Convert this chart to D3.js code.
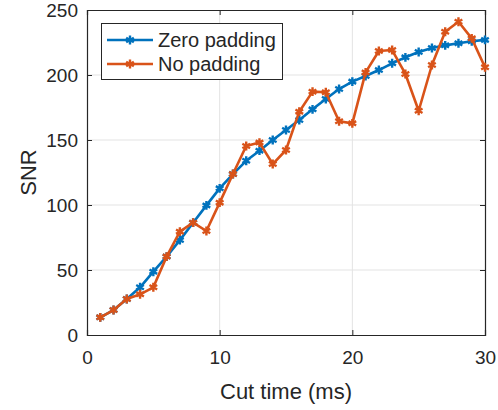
<!DOCTYPE html>
<html>
<head>
<meta charset="utf-8">
<script src="https://cdn.jsdelivr.net/npm/d3@7"></script>
<style>
  body { margin: 0; background: #fff; }
  text { font-family: "Liberation Sans", Arial, sans-serif; fill: #262626; }
</style>
</head>
<body>
<svg id="chart" width="498" height="410"></svg>
<script>
// cut time (ms)
const cutTimes = d3.range(1, 31);

// SNR with zero padding
const zeroPadding = [13.6, 19.2, 27.7, 36.7, 48.7, 60.3, 73, 86.4, 99.7, 112.8,
                     123.8, 134, 141.8, 150, 157.7, 165.4, 173.6, 181.5, 189.2, 194.9,
                     199.2, 203.8, 209, 213.6, 217.7, 220.8, 222.8, 224.4, 225.9, 227];

// SNR without padding
const noPadding = [13.6, 19.2, 27.7, 31.3, 36.7, 60.3, 79.5, 86.4, 80, 101.8,
                   123.8, 145.4, 148, 131.5, 142.3, 171.8, 187.2, 186.7, 164.4, 162.8,
                   202, 218.5, 219.2, 200.8, 172.5, 207.7, 233.3, 241, 228.2, 206];

const xTicks = [0, 10, 20, 30];
const yTicks = [0, 50, 100, 150, 200, 250];
const seriesNames = ["Zero padding", "No padding"];
const seriesColors = ["#0072BD", "#D95319"];

const margin = {left: 87, right: 13, top: 10, bottom: 75};
const width = 498 - margin.left - margin.right;
const height = 410 - margin.top - margin.bottom;

let svg = d3.select("#chart");
let g = svg.append("g").attr("transform", "translate(" + margin.left + "," + margin.top + ")");

let x = d3.scaleLinear().domain([0, 30]).range([0, width]);
let y = d3.scaleLinear().domain([0, 250]).range([height, 0]);

// grid
g.append("g").selectAll("line").data(xTicks.slice(1, -1)).enter().append("line")
  .attr("x1", d => x(d)).attr("x2", d => x(d))
  .attr("y1", 0).attr("y2", height)
  .attr("stroke", "#e3e3e3").attr("stroke-width", 1);
g.append("g").selectAll("line").data(yTicks.slice(1, -1)).enter().append("line")
  .attr("y1", d => y(d)).attr("y2", d => y(d))
  .attr("x1", 0).attr("x2", width)
  .attr("stroke", "#e3e3e3").attr("stroke-width", 1);

// axes (ticks point inward, like matlab)
let xAxis = d3.axisBottom(x).tickValues(xTicks).tickSize(-5).tickPadding(16);
let yAxis = d3.axisLeft(y).tickValues(yTicks).tickSize(-5).tickPadding(9);

let gx = g.append("g").attr("transform", "translate(0," + height + ")").call(xAxis);
let gy = g.append("g").call(yAxis);
g.append("g").call(d3.axisTop(x).tickValues(xTicks).tickSize(-5).tickFormat(""));
g.append("g").attr("transform", "translate(" + width + ",0)")
  .call(d3.axisRight(y).tickValues(yTicks).tickSize(-5).tickFormat(""));

g.selectAll(".domain").attr("stroke", "#262626").attr("stroke-width", 1.2);
g.selectAll(".tick line").attr("stroke", "#262626");
g.selectAll(".tick text").style("font-size", "19px").style("fill", "#262626")
  .style("font-family", "Liberation Sans, Arial, sans-serif");
gy.selectAll(".tick text").attr("dy", "0.36em");

// labels
svg.append("text")
  .attr("x", margin.left + width / 2).attr("y", 399)
  .attr("text-anchor", "middle").style("font-size", "22px")
  .text("Cut time (ms)");
svg.append("text")
  .attr("transform", "translate(36," + (margin.top + height / 2) + ") rotate(-90)")
  .attr("text-anchor", "middle").style("font-size", "22px")
  .text("SNR");

// lines + asterisk markers
let line = d3.line().x((d, i) => x(cutTimes[i])).y(d => y(d));
let star = d3.symbol().type(d3.symbolAsterisk).size(55);

[zeroPadding, noPadding].forEach(function(vals, k) {
  g.append("path").datum(vals)
    .attr("d", line)
    .attr("fill", "none")
    .attr("stroke", seriesColors[k])
    .attr("stroke-width", 2.6)
    .attr("stroke-linejoin", "round");
  g.append("g").selectAll("path").data(vals).enter().append("path")
    .attr("d", star)
    .attr("transform", (d, i) => "translate(" + x(cutTimes[i]) + "," + y(d) + ")")
    .attr("fill", "none")
    .attr("stroke", seriesColors[k])
    .attr("stroke-width", 2.4);
});

// legend
let legend = svg.append("g");
legend.append("rect")
  .attr("x", 101.5).attr("y", 23.5).attr("width", 181).attr("height", 56)
  .attr("fill", "#fff").attr("stroke", "#262626").attr("stroke-width", 1);
seriesNames.forEach(function(name, k) {
  let ly = 40 + k * 24;
  legend.append("line")
    .attr("x1", 107).attr("x2", 153).attr("y1", ly).attr("y2", ly)
    .attr("stroke", seriesColors[k]).attr("stroke-width", 2.6);
  legend.append("path").attr("d", star)
    .attr("transform", "translate(130," + ly + ")")
    .attr("fill", "none").attr("stroke", seriesColors[k]).attr("stroke-width", 2.4);
  legend.append("text")
    .attr("x", 158).attr("y", ly).attr("dy", "0.36em")
    .style("font-size", "20px")
    .text(name);
});
</script>
</body>
</html>
